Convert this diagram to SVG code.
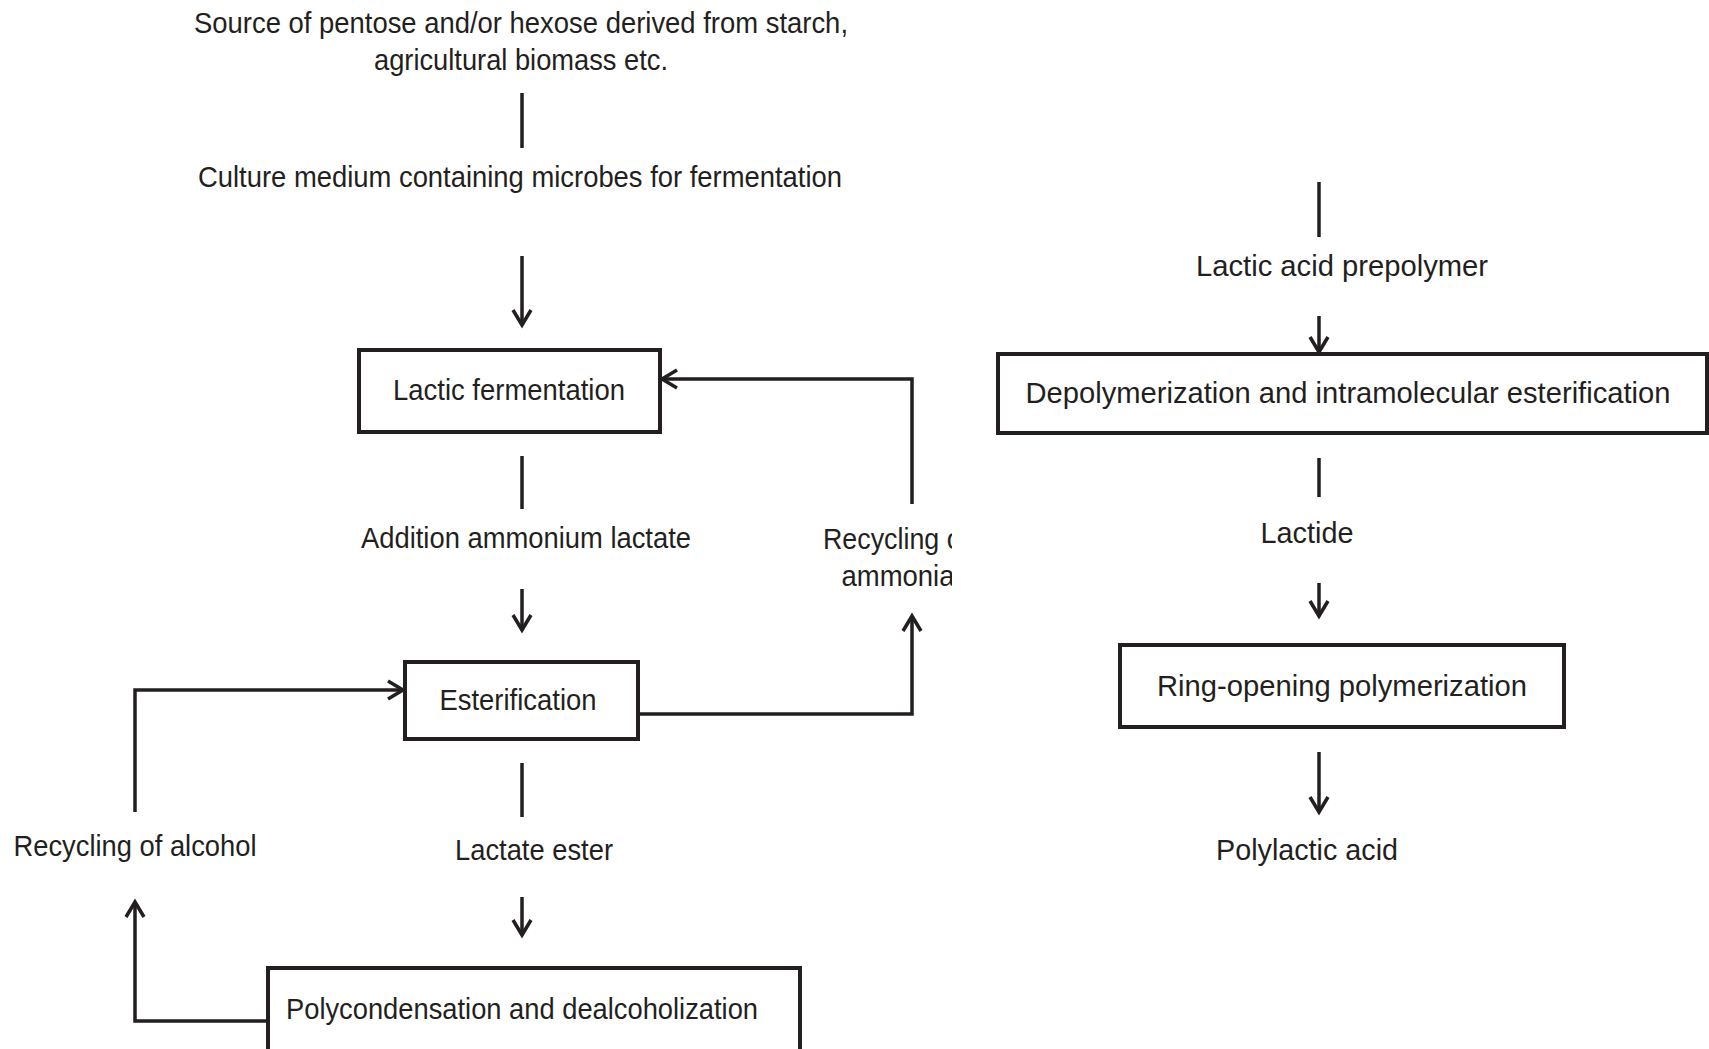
<svg xmlns="http://www.w3.org/2000/svg" width="1709" height="1049" viewBox="0 0 1709 1049">
<style>
  text { font-family: "Liberation Sans", Arial, sans-serif; font-size: 30px; fill: #231f20; text-anchor: middle; }
  .box { fill: #ffffff; stroke: #231f20; stroke-width: 4; }
  .ln { fill: none; stroke: #231f20; stroke-width: 3.5; }
  .arr { fill: none; stroke: #231f20; stroke-width: 3.5; marker-end: url(#ah); }
</style>
<defs>
  <marker id="ah" markerUnits="userSpaceOnUse" markerWidth="30" markerHeight="30" viewBox="-20 -15 30 30" refX="0" refY="0" orient="auto" overflow="visible">
    <path d="M -15 -9 L 0 0 L -15 9" fill="none" stroke="#231f20" stroke-width="3.5" stroke-linejoin="miter"/>
  </marker>
  <clipPath id="clipAm"><rect x="700" y="500" width="252" height="120"/></clipPath>
</defs>
<rect width="1709" height="1049" fill="#ffffff"/>

<g id="connectors">
  <line class="ln" x1="522" y1="93" x2="522" y2="148"/>
  <line class="arr" x1="522" y1="256" x2="522" y2="325"/>
  <line class="ln" x1="522" y1="456" x2="522" y2="509"/>
  <line class="arr" x1="522" y1="589" x2="522" y2="630"/>
  <line class="ln" x1="522" y1="763" x2="522" y2="817"/>
  <line class="arr" x1="522" y1="897" x2="522" y2="935"/>
  <polyline class="arr" points="268,1021 135,1021 135,902"/>
  <polyline class="arr" points="135,812 135,690 403,690"/>
  <polyline class="arr" points="638,714 912,714 912,616"/>
  <polyline class="arr" points="912,504 912,379 662,379"/>
  <line class="ln" x1="1319" y1="182" x2="1319" y2="237"/>
  <line class="arr" x1="1319" y1="316" x2="1319" y2="352"/>
  <line class="ln" x1="1319" y1="458" x2="1319" y2="497"/>
  <line class="arr" x1="1319" y1="583" x2="1319" y2="616"/>
  <line class="arr" x1="1319" y1="752" x2="1319" y2="812"/>
</g>

<g id="source">
  <text x="521" y="33" textLength="654" lengthAdjust="spacingAndGlyphs">Source of pentose and/or hexose derived from starch,</text>
  <text x="521" y="70" textLength="294" lengthAdjust="spacingAndGlyphs">agricultural biomass etc.</text>
</g>
<g id="culture">
  <text x="520" y="187" textLength="644" lengthAdjust="spacingAndGlyphs">Culture medium containing microbes for fermentation</text>
</g>
<g id="lactic-fermentation">
  <rect class="box" x="359" y="350" width="301" height="82"/>
  <text x="509" y="400" textLength="232" lengthAdjust="spacingAndGlyphs">Lactic fermentation</text>
</g>
<g id="addition">
  <text x="526" y="548" textLength="330" lengthAdjust="spacingAndGlyphs">Addition ammonium lactate</text>
</g>
<g id="recycling-ammonia" clip-path="url(#clipAm)">
  <text x="896" y="549" textLength="146" lengthAdjust="spacingAndGlyphs">Recycling of</text>
  <text x="898" y="586" textLength="113" lengthAdjust="spacingAndGlyphs">ammonia</text>
</g>
<g id="esterification">
  <rect class="box" x="405" y="662" width="233" height="77"/>
  <text x="518" y="710" textLength="157" lengthAdjust="spacingAndGlyphs">Esterification</text>
</g>
<g id="lactate-ester">
  <text x="534" y="860" textLength="158" lengthAdjust="spacingAndGlyphs">Lactate ester</text>
</g>
<g id="recycling-alcohol">
  <text x="135" y="856" textLength="243" lengthAdjust="spacingAndGlyphs">Recycling of alcohol</text>
</g>
<g id="polycondensation">
  <rect class="box" x="268" y="968" width="532" height="90"/>
  <text x="286" y="1019" textLength="472" lengthAdjust="spacingAndGlyphs" style="text-anchor:start">Polycondensation and dealcoholization</text>
</g>
<g id="prepolymer">
  <text x="1342" y="276" textLength="292" lengthAdjust="spacingAndGlyphs">Lactic acid prepolymer</text>
</g>
<g id="depolymerization">
  <rect class="box" x="998" y="354" width="709" height="79"/>
  <text x="1348" y="403" textLength="645" lengthAdjust="spacingAndGlyphs">Depolymerization and intramolecular esterification</text>
</g>
<g id="lactide">
  <text x="1307" y="543" textLength="93" lengthAdjust="spacingAndGlyphs">Lactide</text>
</g>
<g id="ring-opening">
  <rect class="box" x="1120" y="645" width="444" height="82"/>
  <text x="1342" y="696" textLength="370" lengthAdjust="spacingAndGlyphs">Ring-opening polymerization</text>
</g>
<g id="polylactic-acid">
  <text x="1307" y="860" textLength="182" lengthAdjust="spacingAndGlyphs">Polylactic acid</text>
</g>
</svg>
